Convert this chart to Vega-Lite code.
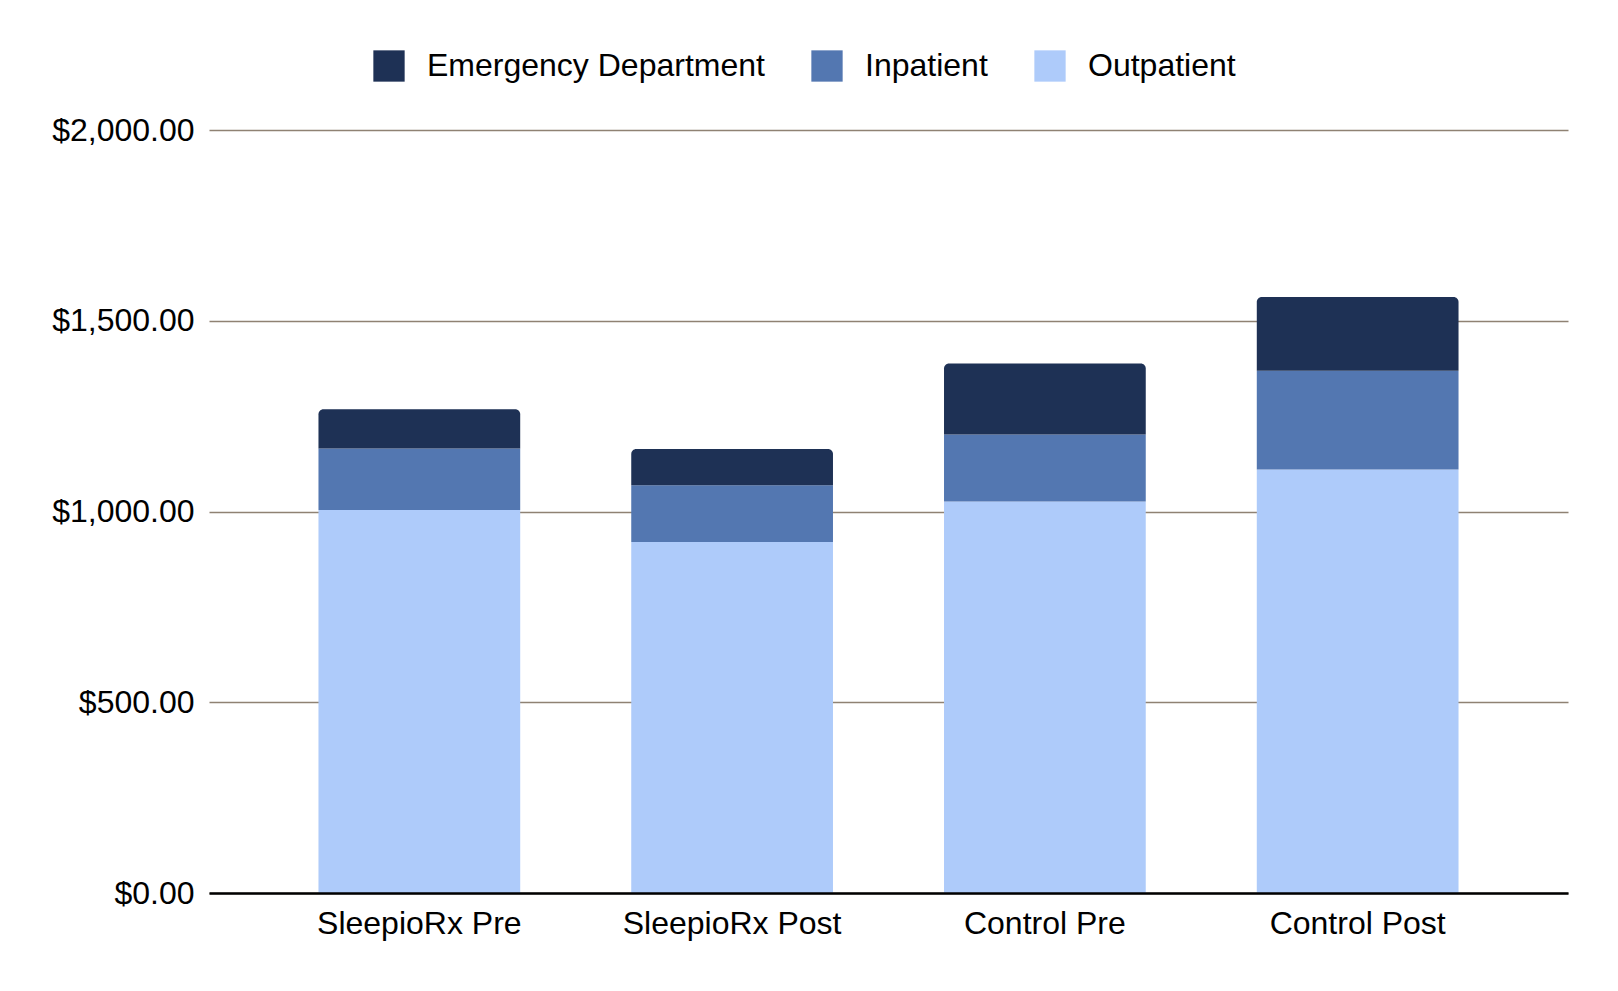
{
  "$schema": "https://vega.github.io/schema/vega-lite/v6.json",
  "width": 1359,
  "height": 763,
  "autosize": {"type": "none"},
  "padding": {"left": 209, "top": 130, "right": 50, "bottom": 98},
  "background": "white",
  "config": {
    "font": "Liberation Sans",
    "view": {"stroke": null}
  },
  "data": {
    "values": [
      {"group": "SleepioRx Pre", "type": "Outpatient", "cost": 1004},
      {"group": "SleepioRx Pre", "type": "Inpatient", "cost": 161},
      {"group": "SleepioRx Pre", "type": "Emergency Department", "cost": 103},
      {"group": "SleepioRx Post", "type": "Outpatient", "cost": 920},
      {"group": "SleepioRx Post", "type": "Inpatient", "cost": 149},
      {"group": "SleepioRx Post", "type": "Emergency Department", "cost": 95},
      {"group": "Control Pre", "type": "Outpatient", "cost": 1026},
      {"group": "Control Pre", "type": "Inpatient", "cost": 176},
      {"group": "Control Pre", "type": "Emergency Department", "cost": 186},
      {"group": "Control Post", "type": "Outpatient", "cost": 1110},
      {"group": "Control Post", "type": "Inpatient", "cost": 259},
      {"group": "Control Post", "type": "Emergency Department", "cost": 193}
    ]
  },
  "transform": [
    {"stack": "cost", "groupby": ["group"], "sort": [{"field": "type", "order": "descending"}], "as": ["y0", "y1"]}
  ],
  "encoding": {
    "x": {
      "field": "group",
      "type": "nominal",
      "sort": ["SleepioRx Pre", "SleepioRx Post", "Control Pre", "Control Post"],
      "scale": {"paddingInner": 0.355, "paddingOuter": 0.35},
      "axis": {
        "title": null,
        "labelAngle": 0,
        "labelFontSize": 32,
        "labelLimit": 0,
        "labelColor": "#000000",
        "labelPadding": 15,
        "ticks": false,
        "domainColor": "#000000",
        "domainWidth": 2.5,
        "grid": false,
        "zindex": 1
      }
    },
    "y": {
      "field": "y1",
      "type": "quantitative",
      "scale": {"domain": [0, 2000], "nice": false},
      "axis": {
        "title": null,
        "values": [0, 500, 1000, 1500, 2000],
        "format": "$,.2f",
        "labelFontSize": 32,
        "labelLimit": 0,
        "labelColor": "#000000",
        "labelPadding": 15,
        "ticks": false,
        "domain": false,
        "gridColor": "#8f8273",
        "gridWidth": 1.5
      }
    },
    "y2": {"field": "y0"},
    "color": {
      "field": "type",
      "type": "nominal",
      "scale": {
        "domain": ["Emergency Department", "Inpatient", "Outpatient"],
        "range": ["#1e3155", "#5377b1", "#aecbfa"]
      },
      "legend": {
        "title": null,
        "orient": "none",
        "direction": "horizontal",
        "legendX": 164,
        "legendY": -80,
        "symbolType": "square",
        "symbolSize": 980,
        "symbolStrokeWidth": 0,
        "labelFontSize": 32,
        "labelLimit": 0,
        "labelColor": "#000000",
        "labelOffset": 22,
        "columnPadding": 46
      }
    }
  },
  "layer": [
    {
      "transform": [{"filter": "datum.type !== 'Emergency Department'"}],
      "mark": {"type": "bar"}
    },
    {
      "transform": [{"filter": "datum.type === 'Emergency Department'"}],
      "mark": {"type": "bar", "cornerRadiusTopLeft": 5, "cornerRadiusTopRight": 5}
    }
  ]
}
